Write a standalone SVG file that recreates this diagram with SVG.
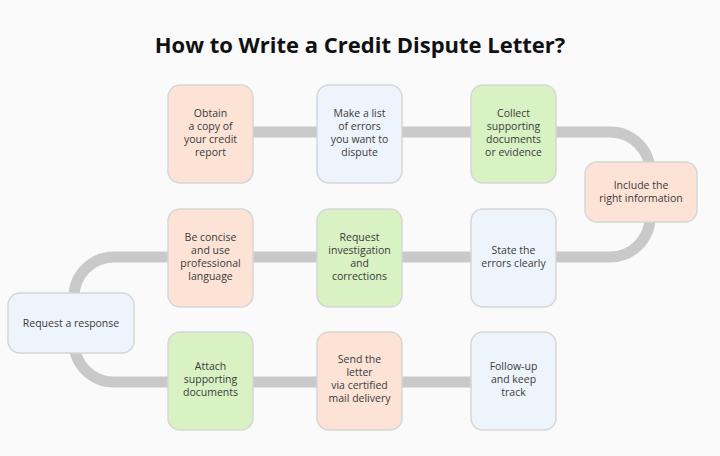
<svg xmlns="http://www.w3.org/2000/svg" width="720" height="456" viewBox="0 0 720 456">
<style>
.t{font-family:"Open Sans","Liberation Sans",sans-serif;font-size:10.5px;fill:#3a3a3a;text-anchor:middle}
.h{font-family:"Open Sans","Liberation Sans",sans-serif;font-size:22px;font-weight:bold;fill:#111;text-anchor:middle}
rect{stroke:#d6d6d6;stroke-width:1.5}
.p{fill:#fde3d6}.b{fill:#eef4fb}.g{fill:#d8f2c4}
</style>
<rect x="0" y="0" width="720" height="456" fill="#fafafa" style="stroke:none"/>
<text class="h" x="360" y="53">How to Write a Credit Dispute Letter?</text>
<g id="connectors" fill="none" stroke="#c9c9c9" stroke-width="11">
<path d="M210 132 H610 A40 40 0 0 1 650 172 V217 A40 40 0 0 1 610 257 H114 A40 40 0 0 0 74 297 V342 A40 40 0 0 0 114 382 H510"/>
</g>
<g id="n1"><rect class="p" x="168" y="85" width="85" height="98" rx="12"/><text class="t" x="210.5" y="117">Obtain</text><text class="t" x="210.5" y="130">a copy of</text><text class="t" x="210.5" y="143">your credit</text><text class="t" x="210.5" y="156">report</text></g>
<g id="n2"><rect class="b" x="317" y="85" width="85" height="98" rx="12"/><text class="t" x="359.5" y="117">Make a list</text><text class="t" x="359.5" y="130">of errors</text><text class="t" x="359.5" y="143">you want to</text><text class="t" x="359.5" y="156">dispute</text></g>
<g id="n3"><rect class="g" x="471" y="85" width="85" height="98" rx="12"/><text class="t" x="513.5" y="117">Collect</text><text class="t" x="513.5" y="130">supporting</text><text class="t" x="513.5" y="143">documents</text><text class="t" x="513.5" y="156">or evidence</text></g>
<g id="n4"><rect class="p" x="585" y="162" width="112" height="60" rx="12"/><text class="t" x="641" y="189">Include the</text><text class="t" x="641" y="202">right information</text></g>
<g id="n5"><rect class="b" x="471" y="209" width="85" height="98" rx="12"/><text class="t" x="513.5" y="254">State the</text><text class="t" x="513.5" y="267">errors clearly</text></g>
<g id="n6"><rect class="g" x="317" y="209" width="85" height="98" rx="12"/><text class="t" x="359.5" y="241">Request</text><text class="t" x="359.5" y="254">investigation</text><text class="t" x="359.5" y="267">and</text><text class="t" x="359.5" y="280">corrections</text></g>
<g id="n7"><rect class="p" x="168" y="209" width="85" height="98" rx="12"/><text class="t" x="210.5" y="241">Be concise</text><text class="t" x="210.5" y="254">and use</text><text class="t" x="210.5" y="267">professional</text><text class="t" x="210.5" y="280">language</text></g>
<g id="n8"><rect class="b" x="8" y="293" width="126" height="60" rx="12"/><text class="t" x="71" y="327">Request a response</text></g>
<g id="n9"><rect class="g" x="168" y="332" width="85" height="98" rx="12"/><text class="t" x="210.5" y="370">Attach</text><text class="t" x="210.5" y="383">supporting</text><text class="t" x="210.5" y="396">documents</text></g>
<g id="n10"><rect class="p" x="317" y="332" width="85" height="98" rx="12"/><text class="t" x="359.5" y="363">Send the</text><text class="t" x="359.5" y="376">letter</text><text class="t" x="359.5" y="389">via certified</text><text class="t" x="359.5" y="402">mail delivery</text></g>
<g id="n11"><rect class="b" x="471" y="332" width="85" height="98" rx="12"/><text class="t" x="513.5" y="370">Follow-up</text><text class="t" x="513.5" y="383">and keep</text><text class="t" x="513.5" y="396">track</text></g>
</svg>
